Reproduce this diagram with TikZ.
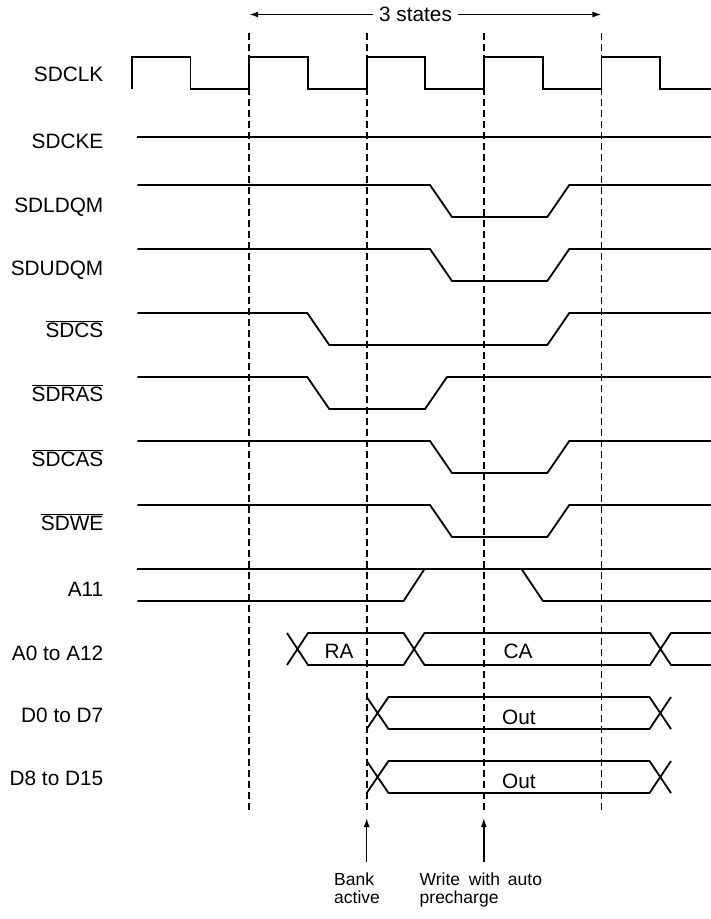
\documentclass[tikz,border=0pt]{standalone}
\usepackage{fontspec}
\setmainfont{Liberation Sans}
\usetikzlibrary{arrows.meta}
\newcommand{\ovl}[1]{$\overline{\hbox{#1}}$}
\newcommand{\lblsize}{\fontsize{20.8}{25}\selectfont}
\newcommand{\notesize}{\fontsize{17.5}{18}\selectfont}

\begin{document}
\begin{tikzpicture}[x=1pt,y=-1pt,>={Latex[length=9pt,width=6pt]},
  sig/.style={line width=1.8pt},
  grid/.style={line width=1.6pt,dash pattern=on 7pt off 4pt},
  arr/.style={->,line width=1.5pt},
  lbl/.style={anchor=base east,inner sep=0pt,font=\lblsize},
  note/.style={anchor=north west,inner sep=0pt,align=left,font=\notesize}]
\useasboundingbox (0,0) rectangle (711,919);
\coordinate (d1t) at (249.2,33);
\coordinate (d1b) at (249.2,812);
\coordinate (d2t) at (366.7,33);
\coordinate (d2b) at (366.7,812);
\coordinate (d3t) at (483.8,33);
\coordinate (d3b) at (483.8,812);
\coordinate (d4t) at (601.4,33);
\coordinate (d4b) at (601.4,812);
\draw[grid] (d1t) -- (d1b);
\draw[grid] (d2t) -- (d2b);
\draw[grid] (d3t) -- (d3b);
\draw[grid] (d4t) -- (d4b);
\node[font=\lblsize,inner xsep=6pt,inner ysep=0pt] (states) at (415.5,14.5) {3 states};
\coordinate (s1) at (249.2,14.5);
\coordinate (s4) at (601.4,14.5);
\draw[arr] (states) -- (s1);
\draw[arr] (states) -- (s4);
\node[lbl] (lclk) at (103.5,81) {SDCLK};
\node[lbl] (lcke) at (103.5,148) {SDCKE};
\node[lbl] (lldqm) at (103.5,212) {SDLDQM};
\node[lbl] (ludqm) at (103.5,275.5) {SDUDQM};
\node[lbl] (lcs) at (103.5,337) {\ovl{SDCS}};
\node[lbl] (lras) at (103.5,401) {\ovl{SDRAS}};
\node[lbl] (lcas) at (103.5,466) {\ovl{SDCAS}};
\node[lbl] (lwe) at (103.5,530) {\ovl{SDWE}};
\node[lbl] (la11) at (103.5,596) {A11};
\node[lbl] (laddr) at (103.5,660) {A0 to A12};
\node[lbl] (ldlo) at (103.5,722) {D0 to D7};
\node[lbl] (ldhi) at (103.5,785) {D8 to D15};
\draw[sig] (131.8,89) -- (131.8,57) -- (190.5,57) -- (190.5,89) -- (249.2,89) -- (249.2,57)
  -- (307.9,57) -- (307.9,89) -- (366.7,89) -- (366.7,57) -- (425.3,57) -- (425.3,89)
  -- (483.8,89) -- (483.8,57) -- (542.7,57) -- (542.7,89) -- (601.4,89) -- (601.4,57)
  -- (660.1,57) -- (660.1,89) -- (711,89);
\draw[sig] (137.3,137) -- (711,137);
\draw[sig] (137.3,185) -- (430,185) -- (452,217) -- (547.3,217) -- (569.3,185) -- (711,185);
\draw[sig] (137.3,249) -- (430,249) -- (452,281) -- (547.3,281) -- (569.3,249) -- (711,249);
\draw[sig] (137.3,313) -- (307.3,313) -- (329.3,345) -- (547.3,345) -- (569.3,313) -- (711,313);
\draw[sig] (137.3,377) -- (307.3,377) -- (329.3,409) -- (425,409) -- (447,377) -- (711,377);
\draw[sig] (137.3,441) -- (430,441) -- (452,473) -- (547.3,473) -- (569.3,441) -- (711,441);
\draw[sig] (137.3,505) -- (430,505) -- (452,537) -- (547.3,537) -- (569.3,505) -- (711,505);
\draw[sig] (137.3,569) -- (711,569);
\draw[sig] (137.3,601) -- (403.6,601) -- (424.5,569);
\draw[sig] (521.5,569) -- (543,601) -- (711,601);
\draw[sig] (287,633) -- (308,665) -- (403.6,665) -- (424.5,633) -- (650,633) -- (671,665) -- (711,665);
\draw[sig] (287,665) -- (308,633) -- (403.6,633) -- (424.5,665) -- (650,665) -- (671,633) -- (711,633);
\node[font=\lblsize] (ra) at (339,651) {RA};
\node[font=\lblsize] (ca) at (518,651) {CA};
\draw[sig] (366.7,697) -- (388.5,729) -- (649.5,729) -- (671,697);
\draw[sig] (366.7,729) -- (388.5,697) -- (649.5,697) -- (671,729);
\node[font=\lblsize] (outlo) at (519,717.5) {Out};
\draw[sig] (366.7,761) -- (388.5,793) -- (649.5,793) -- (671,761);
\draw[sig] (366.7,793) -- (388.5,761) -- (649.5,761) -- (671,793);
\node[font=\lblsize] (outhi) at (519,781) {Out};
\coordinate (bankfoot) at (366.7,862);
\coordinate (banktip) at (366.7,818);
\coordinate (writefoot) at (483.8,862);
\coordinate (writetip) at (483.8,818);
\draw[arr] (bankfoot) -- (banktip);
\draw[arr] (writefoot) -- (writetip);
\node[note] (bank) at (334,872.7) {Bank\\active};
\node[note] (write) at (419.5,872.7) {Write\hspace{0.5em}with\hspace{0.45em}auto\\precharge};
\end{tikzpicture}
\end{document}
